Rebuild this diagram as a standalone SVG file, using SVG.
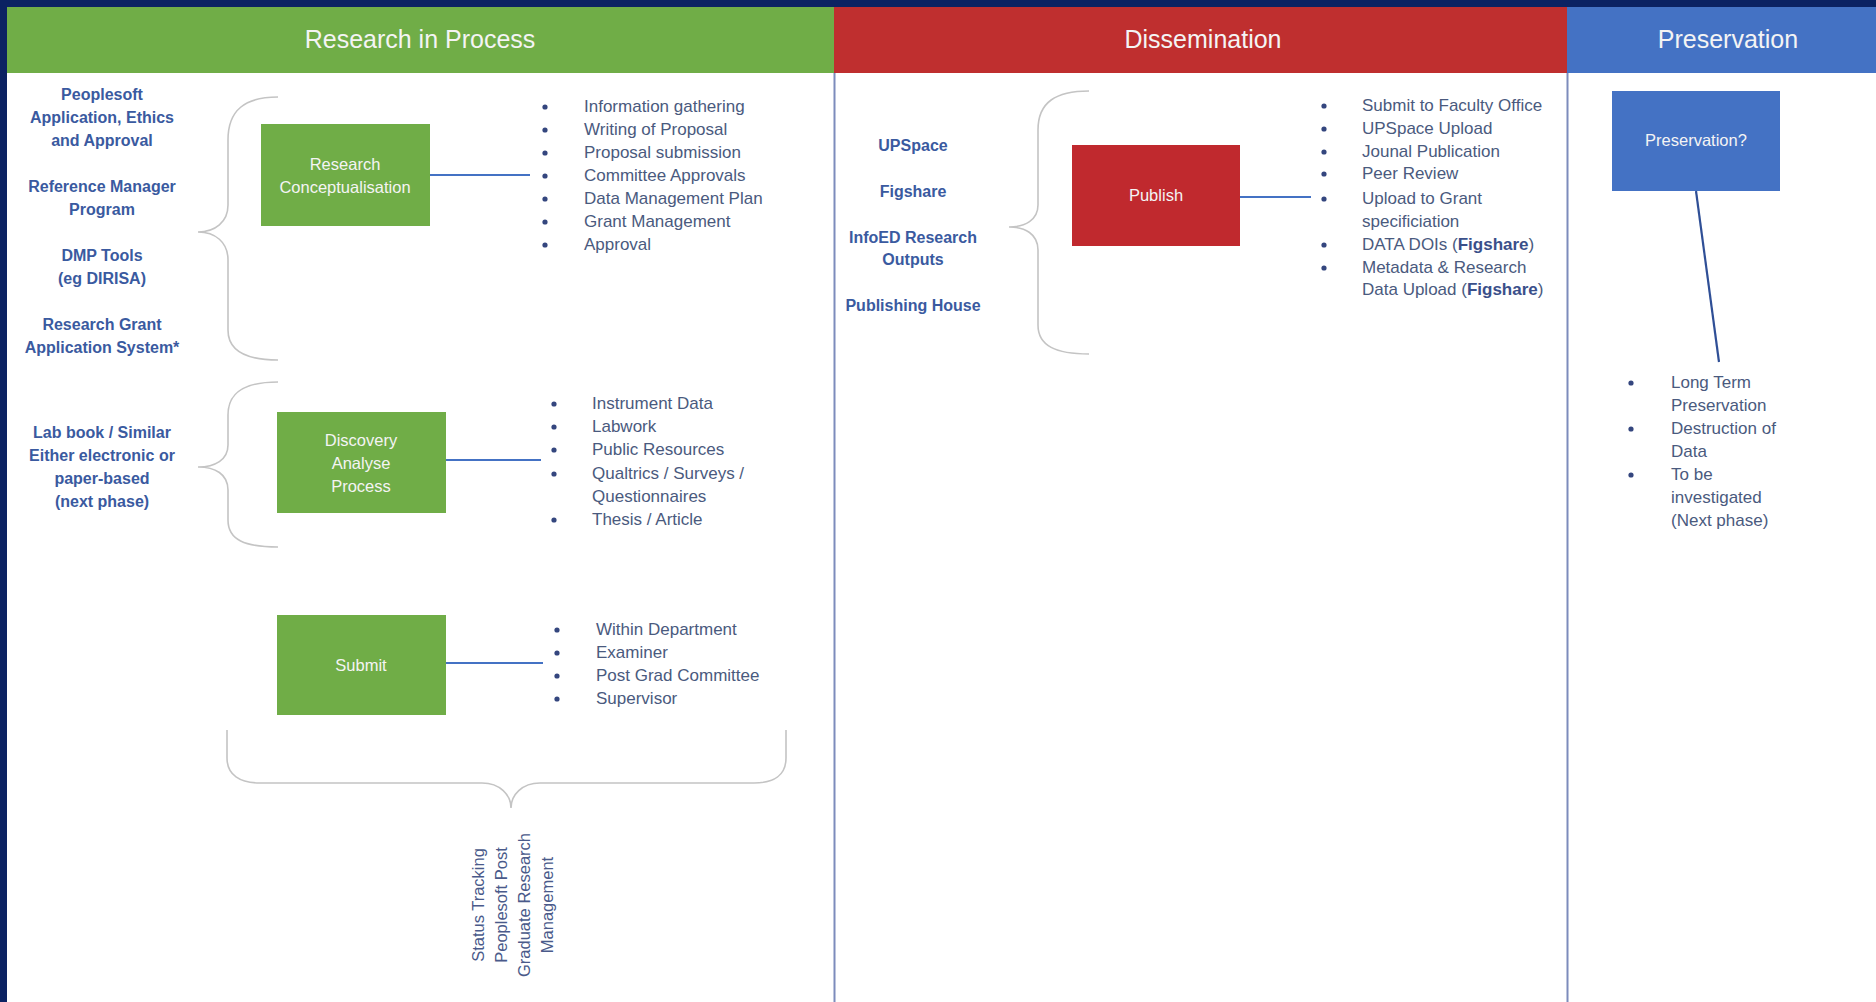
<svg xmlns="http://www.w3.org/2000/svg" width="1876" height="1002" viewBox="0 0 1876 1002">
<style>
.hdr{font-family:"Liberation Sans",Arial,sans-serif;font-size:25px;fill:#f4f4f4;text-anchor:middle}
.lbl{font-family:"Liberation Sans",Arial,sans-serif;font-size:16px;font-weight:bold;fill:#3a5aa0;text-anchor:middle}
.box{font-family:"Liberation Sans",Arial,sans-serif;font-size:16.5px;fill:#f4f4f4;text-anchor:middle}
.itm{font-family:"Liberation Sans",Arial,sans-serif;font-size:17px;fill:#4a5a7e}
.itm tspan.b{font-weight:bold;fill:#3a4f8a}
.rot{font-family:"Liberation Sans",Arial,sans-serif;font-size:16.5px;fill:#4a5a8a;text-anchor:middle}
.dot{fill:#34467e}
.brace{fill:none;stroke:#c4c4c4;stroke-width:1.6}
.conn{fill:none;stroke:#4472c4;stroke-width:2.2}
.sep{stroke:#7d8cbc;stroke-width:2}
.g{fill:#70ad47}
.r{fill:#c0292e}
.bl{fill:#4472c4}
</style>
<rect x="0" y="0" width="1876" height="1002" fill="#ffffff"/>
<g id="frame">
<rect x="0" y="0" width="1876" height="7" fill="#0b2262"/>
<rect x="0" y="0" width="7" height="1002" fill="#0b2262"/>
</g>
<g id="header-research">
<rect x="7" y="7" width="827" height="66" fill="#70ad47"/>
<text class="hdr" x="420" y="48">Research in Process</text>
</g>
<g id="header-dissemination">
<rect x="834" y="7" width="733" height="66" fill="#bf2f2f"/>
<text class="hdr" x="1203" y="48">Dissemination</text>
</g>
<g id="header-preservation">
<rect x="1567" y="7" width="309" height="66" fill="#4472c4"/>
<text class="hdr" x="1728" y="48">Preservation</text>
</g>
<g id="separators">
<line class="sep" x1="834.5" y1="73" x2="834.5" y2="1002"/>
<line class="sep" x1="1567.5" y1="73" x2="1567.5" y2="1002"/>
</g>
<g id="tools-research">
<text class="lbl" x="102" y="100">Peoplesoft</text>
<text class="lbl" x="102" y="123">Application, Ethics</text>
<text class="lbl" x="102" y="146">and Approval</text>
<text class="lbl" x="102" y="192">Reference Manager</text>
<text class="lbl" x="102" y="215">Program</text>
<text class="lbl" x="102" y="261">DMP Tools</text>
<text class="lbl" x="102" y="284">(eg DIRISA)</text>
<text class="lbl" x="102" y="330">Research Grant</text>
<text class="lbl" x="102" y="353">Application System*</text>
<text class="lbl" x="102" y="438">Lab book / Similar</text>
<text class="lbl" x="102" y="461">Either electronic or</text>
<text class="lbl" x="102" y="484">paper-based</text>
<text class="lbl" x="102" y="507">(next phase)</text>
</g>
<g id="braces">
<path class="brace" d="M278,97 C245,97 228,110 228,140 L228,205 C228,222 215,232 198,232 C215,232 228,242 228,260 L228,330 C228,350 245,360 278,360"/>
<path class="brace" d="M278,382 C245,382 228,392 228,415 L228,445 C228,460 215,467 198,467 C215,467 228,474 228,490 L228,520 C228,540 245,547 278,547"/>
<path class="brace" d="M1089,91 C1056,91 1038,102 1038,130 L1038,205 C1038,220 1025,227 1009,227 C1025,227 1038,234 1038,250 L1038,325 C1038,346 1056,354 1089,354"/>
<path class="brace" d="M227,730 L227,758 C227,775 240,783 260,783 L482,783 C500,783 511,795 511,808 C511,795 522,783 540,783 L754,783 C774,783 786,775 786,758 L786,730"/>
</g>
<g id="connectors">
<line class="conn" x1="430" y1="175" x2="530" y2="175"/>
<line class="conn" x1="446" y1="460" x2="541" y2="460"/>
<line class="conn" x1="446" y1="663" x2="543" y2="663"/>
<line class="conn" x1="1240" y1="197" x2="1311" y2="197"/>
<line x1="1696" y1="191" x2="1719" y2="362" stroke="#2f4f96" stroke-width="2.2"/>
</g>
<g id="node-research-conceptualisation">
<rect class="g" x="261" y="124" width="169" height="102"/>
<text class="box" x="345" y="170">Research</text>
<text class="box" x="345" y="193">Conceptualisation</text>
</g>
<g id="list-research-conceptualisation">
<circle class="dot" cx="545" cy="107" r="2.6"/>
<circle class="dot" cx="545" cy="130" r="2.6"/>
<circle class="dot" cx="545" cy="153" r="2.6"/>
<circle class="dot" cx="545" cy="176" r="2.6"/>
<circle class="dot" cx="545" cy="199" r="2.6"/>
<circle class="dot" cx="545" cy="222" r="2.6"/>
<circle class="dot" cx="545" cy="245" r="2.6"/>
<text class="itm" x="584" y="112">Information gathering</text>
<text class="itm" x="584" y="135">Writing of Proposal</text>
<text class="itm" x="584" y="158">Proposal submission</text>
<text class="itm" x="584" y="181">Committee Approvals</text>
<text class="itm" x="584" y="204">Data Management Plan</text>
<text class="itm" x="584" y="227">Grant Management</text>
<text class="itm" x="584" y="250">Approval</text>
</g>
<g id="node-discovery">
<rect class="g" x="277" y="412" width="169" height="101"/>
<text class="box" x="361" y="446">Discovery</text>
<text class="box" x="361" y="469">Analyse</text>
<text class="box" x="361" y="492">Process</text>
</g>
<g id="list-discovery">
<circle class="dot" cx="554" cy="404" r="2.6"/>
<circle class="dot" cx="554" cy="427" r="2.6"/>
<circle class="dot" cx="554" cy="450" r="2.6"/>
<circle class="dot" cx="554" cy="474" r="2.6"/>
<circle class="dot" cx="554" cy="520" r="2.6"/>
<text class="itm" x="592" y="409">Instrument Data</text>
<text class="itm" x="592" y="432">Labwork</text>
<text class="itm" x="592" y="455">Public Resources</text>
<text class="itm" x="592" y="479">Qualtrics / Surveys /</text>
<text class="itm" x="592" y="502">Questionnaires</text>
<text class="itm" x="592" y="525">Thesis / Article</text>
</g>
<g id="node-submit">
<rect class="g" x="277" y="615" width="169" height="100"/>
<text class="box" x="361" y="671">Submit</text>
</g>
<g id="list-submit">
<circle class="dot" cx="557" cy="630" r="2.6"/>
<circle class="dot" cx="557" cy="653" r="2.6"/>
<circle class="dot" cx="557" cy="676" r="2.6"/>
<circle class="dot" cx="557" cy="699" r="2.6"/>
<text class="itm" x="596" y="635">Within Department</text>
<text class="itm" x="596" y="658">Examiner</text>
<text class="itm" x="596" y="681">Post Grad Committee</text>
<text class="itm" x="596" y="704">Supervisor</text>
</g>
<g id="status-tracking">
<text class="rot" transform="translate(484,905) rotate(-90)">Status Tracking</text>
<text class="rot" transform="translate(507,905) rotate(-90)">Peoplesoft Post</text>
<text class="rot" transform="translate(530,905) rotate(-90)">Graduate Research</text>
<text class="rot" transform="translate(553,905) rotate(-90)">Management</text>
</g>
<g id="tools-dissemination">
<text class="lbl" x="913" y="151">UPSpace</text>
<text class="lbl" x="913" y="197">Figshare</text>
<text class="lbl" x="913" y="243">InfoED Research</text>
<text class="lbl" x="913" y="265">Outputs</text>
<text class="lbl" x="913" y="311">Publishing House</text>
</g>
<g id="node-publish">
<rect class="r" x="1072" y="145" width="168" height="101"/>
<text class="box" x="1156" y="201">Publish</text>
</g>
<g id="list-publish">
<circle class="dot" cx="1324" cy="106" r="2.6"/>
<circle class="dot" cx="1324" cy="129" r="2.6"/>
<circle class="dot" cx="1324" cy="152" r="2.6"/>
<circle class="dot" cx="1324" cy="174" r="2.6"/>
<circle class="dot" cx="1324" cy="199" r="2.6"/>
<circle class="dot" cx="1324" cy="245" r="2.6"/>
<circle class="dot" cx="1324" cy="268" r="2.6"/>
<text class="itm" x="1362" y="111">Submit to Faculty Office</text>
<text class="itm" x="1362" y="134">UPSpace Upload</text>
<text class="itm" x="1362" y="157">Jounal Publication</text>
<text class="itm" x="1362" y="179">Peer Review</text>
<text class="itm" x="1362" y="204">Upload to Grant</text>
<text class="itm" x="1362" y="227">specificiation</text>
<text class="itm" x="1362" y="250">DATA DOIs (<tspan class="b">Figshare</tspan>)</text>
<text class="itm" x="1362" y="273">Metadata &amp; Research</text>
<text class="itm" x="1362" y="295">Data Upload (<tspan class="b">Figshare</tspan>)</text>
</g>
<g id="node-preservation">
<rect class="bl" x="1612" y="91" width="168" height="100"/>
<text class="box" x="1696" y="146">Preservation?</text>
</g>
<g id="list-preservation">
<circle class="dot" cx="1631" cy="383" r="2.6"/>
<circle class="dot" cx="1631" cy="429" r="2.6"/>
<circle class="dot" cx="1631" cy="475" r="2.6"/>
<text class="itm" x="1671" y="388">Long Term</text>
<text class="itm" x="1671" y="411">Preservation</text>
<text class="itm" x="1671" y="434">Destruction of</text>
<text class="itm" x="1671" y="457">Data</text>
<text class="itm" x="1671" y="480">To be</text>
<text class="itm" x="1671" y="503">investigated</text>
<text class="itm" x="1671" y="526">(Next phase)</text>
</g>
</svg>
